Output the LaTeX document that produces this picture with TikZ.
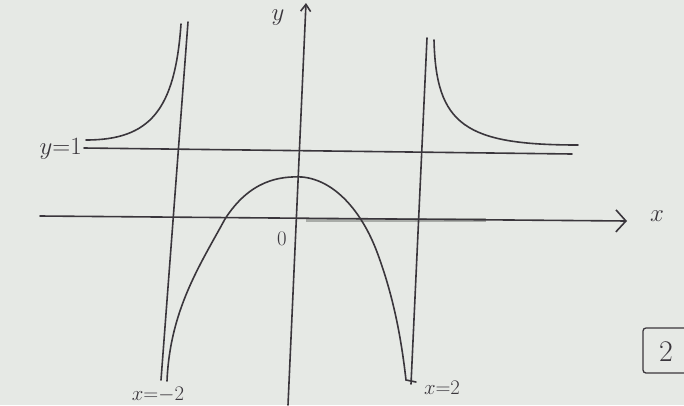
\documentclass[tikz,border=0pt]{standalone}
\usetikzlibrary{arrows.meta}
\definecolor{ink}{HTML}{3A363C}
\definecolor{paper}{HTML}{E6E9E5}
\definecolor{hl}{HTML}{A9ACA8}
\tikzset{
  pen/.style={ink, line width=1.6pt, line cap=round},
  lbl/.style={ink, inner sep=0pt, font=\fontsize{30}{30}\selectfont},
  slbl/.style={ink, inner sep=0pt, font=\fontsize{20}{20}\selectfont},
}
\begin{document}
\begin{tikzpicture}[x=1pt,y=-1pt]
\fill[paper] (0,0) rectangle (684,405);
\useasboundingbox (0,0) rectangle (684,405);
% highlighted segment on x-axis
\draw[hl, line width=4.5pt] (306,220) -- (486,220);
% x-axis
\coordinate (xl) at (40,216);
\coordinate (xr) at (627,221);
\draw[pen, -{Straight Barb[length=10pt,width=22pt]}] (xl) -- (xr);
\node[lbl] (xlab) at (657,216) {$x$};
% y-axis
\coordinate (yb) at (288,405);
\coordinate (yt) at (306,3);
\draw[pen, -{Straight Barb[length=7pt,width=10pt]}] (yb) -- (yt);
\node[lbl] (ylab) at (278,18) {$y$};
% y = 1 asymptote
\coordinate (al) at (84,148);
\coordinate (ar) at (572,154);
\draw[pen] (al) -- (ar);
\node[lbl, anchor=east] (y1) at (82,149) {$y{=}1$};
% vertical asymptotes
\coordinate (lt) at (188,22);
\coordinate (lb) at (161,380);
\draw[pen] (lt) -- (lb);
\coordinate (rt) at (427,38);
\coordinate (rb) at (411,384);
\draw[pen] (rt) -- (rb);
\node[slbl] (xm2) at (158,395) {$x{=}{-}2$};
\node[slbl] (xp2) at (442,388) {$x{=}2$};
% origin label
\node[slbl] (o) at (282,239) {$0$};
% upper branches
\draw[pen] (86,140) .. controls (150,140) and (175,110) .. (181,24);
\draw[pen] (434,40) .. controls (436,125) and (465,145) .. (578,145);
% middle branch
\draw[pen] (167,381) .. controls (170,310) and (200,265) .. (225,219)
  .. controls (250,180) and (280,176) .. (302,177)
  .. controls (335,180) and (362,212) .. (377,252)
  .. controls (395,300) and (402,345) .. (406,380) -- (416,382);
% boxed 2
\draw[ink, line width=1.3pt, rounded corners=3pt] (690,328) -- (643,328) -- (643,373) -- (690,373);
\node[lbl] (two) at (666,352) {2};
\end{tikzpicture}
\end{document}
